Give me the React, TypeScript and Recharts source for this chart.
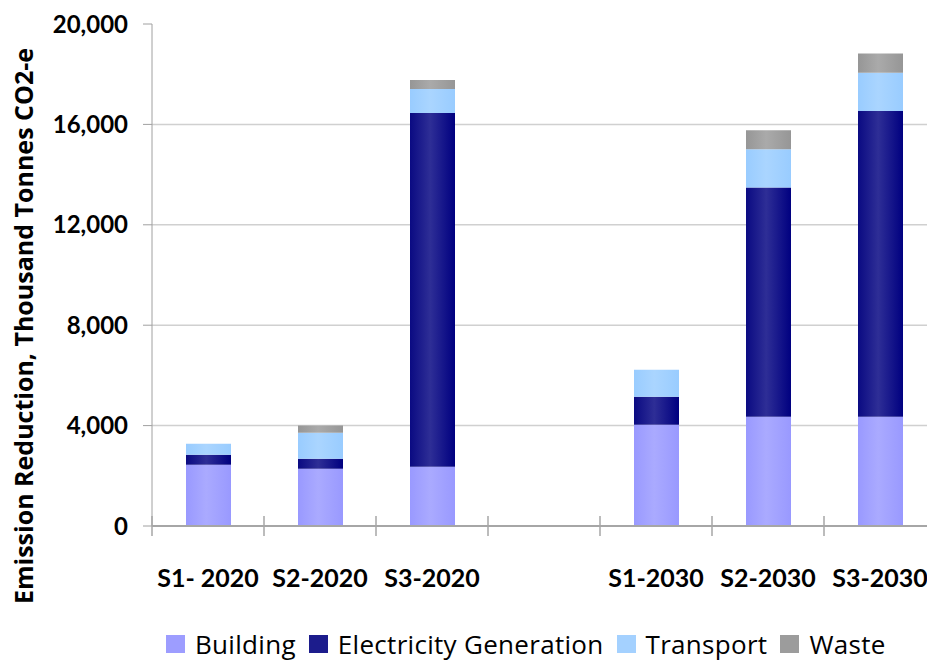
import { Bar, BarChart, CartesianGrid, Legend, XAxis, YAxis } from 'recharts';

const categories = ['S1- 2020', 'S2-2020', 'S3-2020', '', 'S1-2030', 'S2-2030', 'S3-2030'];
const building = [2440, 2280, 2360, null, 4030, 4350, 4350];
const electricity = [400, 400, 14090, null, 1120, 9135, 12185];
const transport = [440, 1040, 960, null, 1080, 1525, 1525];
const waste = [0, 280, 360, null, 0, 760, 760];
const yTicks = [0, 4000, 8000, 12000, 16000, 20000];

const series = [
  { key: 'building', name: 'Building', edge: '#9999ff', mid: '#aaaaff', right: '#9999ff', swatch: '#9d9dff' },
  { key: 'electricity', name: 'Electricity Generation', edge: '#0a0a82', mid: '#2e2e96', right: '#000080', swatch: '#1c1c8c' },
  { key: 'transport', name: 'Transport', edge: '#99ccff', mid: '#aad5ff', right: '#99ccff', swatch: '#a4d1ff' },
  { key: 'waste', name: 'Waste', edge: '#969696', mid: '#aaaaaa', right: '#969696', swatch: '#9c9c9c' },
];

const data = categories.map((name, i) => ({
  name,
  building: building[i],
  electricity: electricity[i],
  transport: transport[i],
  waste: waste[i],
}));

const FONT = 'Lato, "Open Sans", sans-serif';
const WIDE_FONT = '"Open Sans", Lato, sans-serif';
const CHART_W = 940;
const HALF_BAND = 784 / categories.length / 2;

function XTick(props: any) {
  const { x, y, payload, index } = props;
  const half = payload?.offset || HALF_BAND;
  return (
    <g>
      <line x1={x - half} x2={x - half} y1={y - 10} y2={y + 10} stroke="#a6a6a6" strokeWidth={1.5} />
      {index === categories.length - 1 && (
        <line x1={x + half} x2={x + half} y1={y - 10} y2={y + 10} stroke="#a6a6a6" strokeWidth={1.5} />
      )}
      <text
        x={x}
        y={y + 51}
        textAnchor="middle"
        dominantBaseline="central"
        fontFamily={FONT}
        fontWeight={700}
        fontSize={25}
        fill="#000"
      >
        {payload.value}
      </text>
    </g>
  );
}

function YLabel(props: any) {
  const vb = props.viewBox || { x: 0, y: 24, width: 152, height: 502 };
  const cx = vb.x + 23;
  const cy = vb.y + vb.height / 2 + 51;
  return (
    <text
      x={cx}
      y={cy}
      transform={`rotate(-90 ${cx} ${cy})`}
      textAnchor="middle"
      dominantBaseline="central"
      fontFamily={WIDE_FONT}
      fontWeight={700}
      fontSize={25}
      fill="#000"
    >
      Emission Reduction, Thousand Tonnes CO2-e
    </text>
  );
}

function LegendContent() {
  return (
    <div
      style={{
        display: 'flex',
        alignItems: 'center',
        height: 30,
        boxSizing: 'border-box',
        paddingBottom: 6,
        paddingLeft: 166,
        fontFamily: WIDE_FONT,
        fontSize: 26,
        lineHeight: 1,
        color: '#000',
        whiteSpace: 'nowrap',
      }}
    >
      {series.map((s) => (
        <div key={s.key} style={{ display: 'flex', alignItems: 'center', marginRight: 13 }}>
          <span style={{ width: 19, height: 18, background: s.swatch, marginRight: 10, display: 'inline-block' }} />
          <span style={{ letterSpacing: 0.3 }}>{s.name}</span>
        </div>
      ))}
    </div>
  );
}

export default function App() {
  return (
    <div
      style={{
        position: 'absolute',
        left: 0,
        top: 0,
        width: 927,
        height: 662,
        overflow: 'hidden',
        background: '#fff',
        fontFamily: FONT,
      }}
    >
      <BarChart
        width={CHART_W}
        height={662}
        data={data}
        margin={{ top: 24, right: 4, left: 0, bottom: 0 }}
        barSize={45}
      >
        <defs>
          {series.map((s) => (
            <linearGradient key={s.key} id={`grad-${s.key}`} x1="0" y1="0" x2="1" y2="0">
              <stop offset="0%" stopColor={s.edge} />
              <stop offset="45%" stopColor={s.mid} />
              <stop offset="100%" stopColor={s.right} />
            </linearGradient>
          ))}
        </defs>
        <CartesianGrid
          vertical={false}
          stroke="#d0d0d0"
          strokeWidth={1.5}
          horizontalValues={[4000, 8000, 12000, 16000]}
        />
        <XAxis
          dataKey="name"
          height={106}
          tickSize={0}
          tickMargin={0}
          interval={0}
          axisLine={{ stroke: '#a6a6a6', strokeWidth: 2 }}
          tick={<XTick />}
        />
        <YAxis
          width={152}
          domain={[0, 20000]}
          ticks={yTicks}
          interval={0}
          tickSize={9}
          tickMargin={15}
          axisLine={{ stroke: '#a0a0a0' }}
          tickLine={{ stroke: '#a0a0a0' }}
          tickFormatter={(v: number) => v.toLocaleString('en-US')}
          tick={{ fontFamily: FONT, fontWeight: 700, fontSize: 24, fill: '#000' }}
          label={<YLabel />}
        />
        <Legend
          verticalAlign="bottom"
          align="left"
          height={30}
          wrapperStyle={{ left: 0, width: CHART_W }}
          content={<LegendContent />}
        />
        {series.map((s) => (
          <Bar
            key={s.key}
            dataKey={s.key}
            name={s.name}
            stackId="a"
            fill={`url(#grad-${s.key})`}
            isAnimationActive={false}
          />
        ))}
      </BarChart>
    </div>
  );
}
